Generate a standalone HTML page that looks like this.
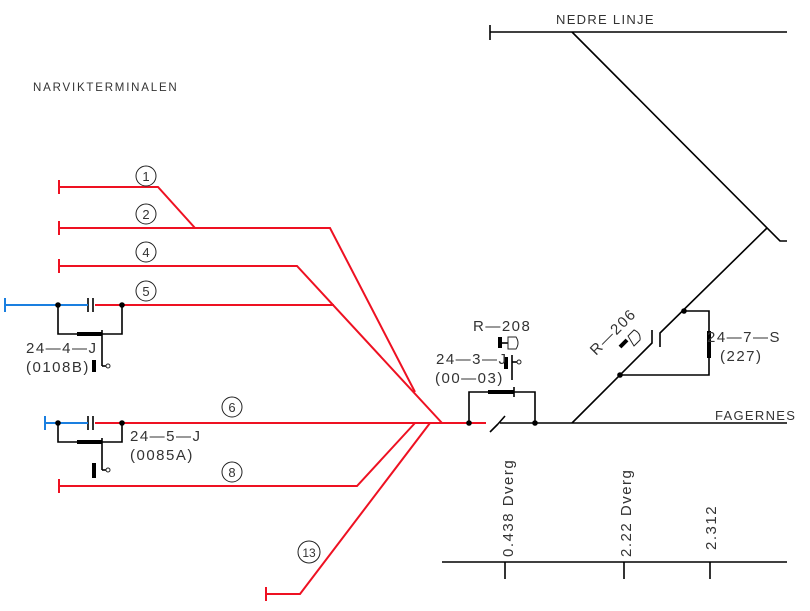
<!DOCTYPE html>
<html><head><meta charset="utf-8"><style>
html,body{margin:0;padding:0;background:#fff;}
svg{display:block;}
text{font-family:"Liberation Sans",sans-serif;fill:#333;}
</style></head><body>
<svg width="810" height="611" viewBox="0 0 810 611" xmlns="http://www.w3.org/2000/svg">
<g fill="none" stroke-width="1.6">
<g stroke="#000">
<line x1="490" y1="32" x2="787" y2="32"/>
<line x1="490" y1="25" x2="490" y2="40"/>
<polyline points="572,32 780,241 787,241"/>
<polyline points="572,423 652,343 652,330"/>
<polyline points="660,347 660,333 767,228"/>
<polyline points="684,311 709,311 709,375 620,375"/>
<line x1="500" y1="423" x2="787" y2="423"/>
<line x1="490" y1="432" x2="498" y2="424"/>
<line x1="498" y1="424" x2="505" y2="416"/>
<polyline points="469,423 469,392 535,392 535,423"/>
<line x1="514" y1="387" x2="514" y2="397"/>
<line x1="442" y1="562" x2="787" y2="562"/>
<line x1="505" y1="562" x2="505" y2="579"/>
<line x1="624" y1="562" x2="624" y2="579"/>
<line x1="710" y1="562" x2="710" y2="579"/>
<polyline points="58,305 58,334 122,334 122,305"/>
<line x1="102" y1="330" x2="102" y2="366"/>
<line x1="102" y1="366" x2="106" y2="366"/>
<polyline points="58,423 58,442 122,442 122,423"/>
<line x1="102" y1="438" x2="102" y2="470"/>
<line x1="102" y1="470" x2="106" y2="470"/>
<line x1="88" y1="298" x2="88" y2="312"/>
<line x1="93" y1="298" x2="93" y2="312"/>
<line x1="88" y1="416" x2="88" y2="430"/>
<line x1="93" y1="416" x2="93" y2="430"/>
<line x1="512" y1="355" x2="512" y2="380"/>
<line x1="512" y1="362" x2="517" y2="362"/>
<line x1="501" y1="343" x2="508" y2="343"/>
</g>
<g stroke="#000" stroke-width="4">
<line x1="77" y1="334" x2="102" y2="334"/>
<line x1="77" y1="442" x2="102" y2="442"/>
<line x1="488" y1="392" x2="514" y2="392"/>
<line x1="709" y1="331" x2="709" y2="358"/>
<line x1="94" y1="360" x2="94" y2="372"/>
<line x1="94" y1="463" x2="94" y2="478"/>
<line x1="506" y1="357" x2="506" y2="369"/>
<line x1="500" y1="337" x2="500" y2="348"/>
<line x1="620" y1="347" x2="627" y2="340"/>
</g>
<g stroke="#1a7fe0" stroke-width="2">
<line x1="5" y1="305" x2="88" y2="305"/>
<line x1="5" y1="298" x2="5" y2="312"/>
<line x1="45" y1="423" x2="88" y2="423"/>
<line x1="45" y1="416" x2="45" y2="430"/>
</g>
<g stroke="#ee1122" stroke-width="2">
<polyline points="59,187 158,187 195,228"/>
<line x1="59" y1="180" x2="59" y2="194"/>
<polyline points="59,228 330,228 415,392"/>
<line x1="59" y1="221" x2="59" y2="235"/>
<polyline points="59,266 297,266 442,423"/>
<line x1="59" y1="259" x2="59" y2="273"/>
<line x1="95" y1="305" x2="334" y2="305"/>
<line x1="95" y1="423" x2="486" y2="423"/>
<polyline points="59,486 357,486 415,423"/>
<line x1="59" y1="479" x2="59" y2="493"/>
<polyline points="266,594 300,594 430,423"/>
<line x1="266" y1="587" x2="266" y2="601"/>
</g>
<g fill="#000" stroke="none">
<circle cx="58" cy="305" r="2.8"/><circle cx="122" cy="305" r="2.8"/>
<circle cx="58" cy="423" r="2.8"/><circle cx="122" cy="423" r="2.8"/>
<circle cx="469" cy="423" r="2.8"/><circle cx="535" cy="423" r="2.8"/>
<circle cx="620" cy="375" r="2.8"/><circle cx="684" cy="311" r="2.8"/>
</g>
<g stroke="#222" stroke-width="1">
<circle cx="108" cy="366" r="2"/><circle cx="108" cy="470" r="2"/><circle cx="519" cy="362" r="2"/>
<path d="M508,337 L516,337 Q520,343 516,349 L508,349 Z"/>
<path d="M628,336 L634,330 Q641,333 640,340 L634,346 Z"/>
<circle cx="146" cy="176" r="10"/><circle cx="146" cy="214" r="10"/>
<circle cx="146" cy="252" r="10"/><circle cx="146" cy="291" r="10"/>
<circle cx="232" cy="407" r="10"/><circle cx="232" cy="472" r="10"/>
<circle cx="309" cy="552" r="11"/>
</g>
</g>
<g font-size="13">
<text x="146" y="181" text-anchor="middle">1</text>
<text x="146" y="219" text-anchor="middle">2</text>
<text x="146" y="257" text-anchor="middle">4</text>
<text x="146" y="296" text-anchor="middle">5</text>
<text x="232" y="412" text-anchor="middle">6</text>
<text x="232" y="477" text-anchor="middle">8</text>
<text x="309" y="557" text-anchor="middle" font-size="12">13</text>
</g>
<g font-size="15" letter-spacing="1.5">
<text x="33" y="91" font-size="11.5" letter-spacing="1.8">NARVIKTERMINALEN</text>
<text x="556" y="24" font-size="13" letter-spacing="1.3">NEDRE LINJE</text>
<text x="715" y="420" font-size="13" letter-spacing="1.3">FAGERNES</text>
<text x="26" y="353">24—4—J</text>
<text x="26" y="372">(0108B)</text>
<text x="130" y="441">24—5—J</text>
<text x="130" y="460">(0085A)</text>
<text x="473" y="331">R—208</text>
<text x="436" y="364">24—3—J</text>
<text x="435" y="383">(00—03)</text>
<text x="707" y="342">24—7—S</text>
<text x="720" y="361">(227)</text>
<text transform="translate(596,356) rotate(-45)">R—206</text>
<text transform="translate(513,557) rotate(-90)">0.438  Dverg</text>
<text transform="translate(631,557) rotate(-90)">2.22  Dverg</text>
<text transform="translate(716,550) rotate(-90)">2.312</text>
</g>
</svg>
</body></html>
